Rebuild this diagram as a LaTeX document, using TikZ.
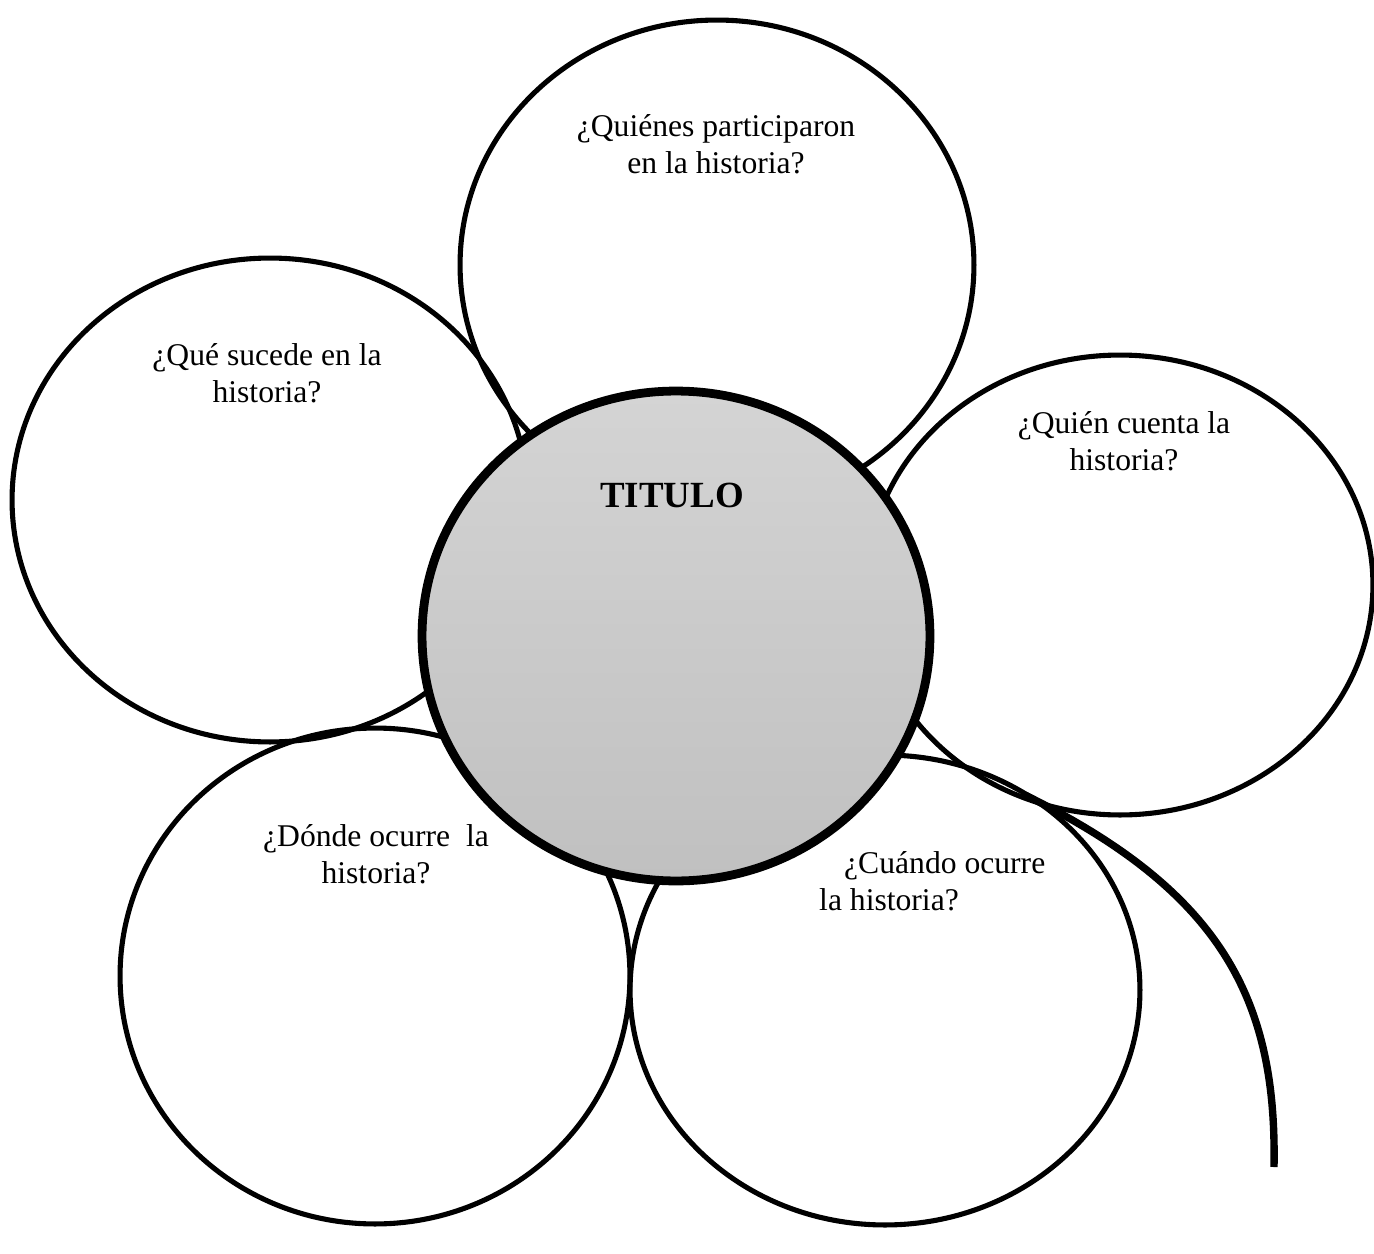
\documentclass[tikz,border=0pt]{standalone}
\usepackage{fontspec}
\setmainfont{Liberation Serif}
\usepackage{tikz}
\usetikzlibrary{shapes.geometric}
\definecolor{titletop}{RGB}{212,212,212}
\definecolor{titlebottom}{RGB}{192,192,192}

\begin{document}
\begin{tikzpicture}[x=0.02cm,y=-0.02cm,
    petal/.style={draw,ellipse,inner sep=0pt,line width=2.9pt},
    centre/.style={draw,ellipse,inner sep=0pt,line width=5pt,top color=titletop,bottom color=titlebottom},
    question/.style={align=center,anchor=base,font=\fontsize{18}{20.5}\selectfont}]

            % Fix the page size
            \useasboundingbox (0,0) rectangle (1374,1254);

            % Define the petals
            \node[petal,minimum width=10.28cm,minimum height=9.8cm] (quienes) at (717,265) {};
            \node[petal,minimum width=10.32cm,minimum height=9.68cm] (sucede) at (270,500) {};
            \node[petal,minimum width=10.12cm,minimum height=9.2cm] (cuenta) at (1120,585) {};
            \node[petal,minimum width=10.2cm,minimum height=9.92cm] (donde) at (375,976) {};
            \node[petal,minimum width=10.2cm,minimum height=9.4cm] (cuando) at (885,990) {};

            % Define the stem
            \coordinate (stembase) at (1025,795);
            \coordinate (stemtip) at (1274,1167);
            \draw[line width=4.2pt] (stembase) .. controls (1222,892) and (1277,1000) .. (stemtip);

            % Define the centre of the flower
            \node[centre,minimum width=10.16cm,minimum height=9.8cm] (titulo) at (676,636) {};

            % Add the questions (base is the last line)
            \node[question] (qquienes) at (716,173) {¿Quiénes participaron\\en la historia?};
            \node[question] (qsucede) at (267,402) {¿Qué sucede en la\\historia?};
            \node[question] (qcuenta) at (1124,470) {¿Quién cuenta la\\historia?};
            \node[question] (qdonde) at (376,883) {¿Dónde ocurre\ \ la\\historia?};
            \node[question,align=left,anchor=base west] (qcuando) at (813,910) {\hspace*{0.5cm}¿Cuándo ocurre\\la historia?};

            % Add the title
            \node[anchor=base,font=\fontsize{21}{24}\selectfont\bfseries] (ttitulo) at (672,507) {TITULO};

        \end{tikzpicture}
\end{document}
